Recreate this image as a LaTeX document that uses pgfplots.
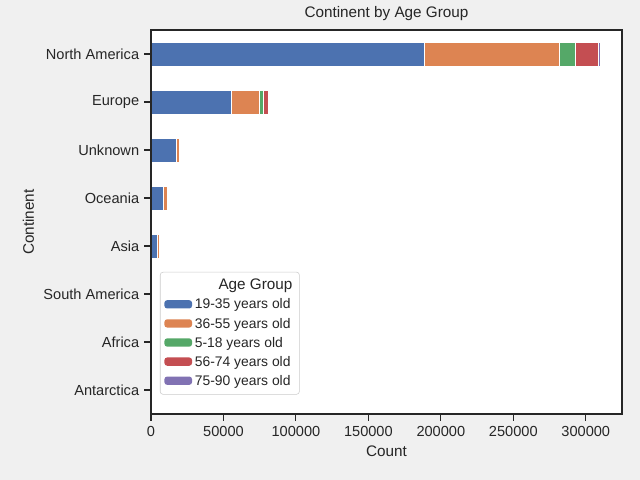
\documentclass[border=0pt]{standalone}
\usepackage{pgfplots}
\pgfplotsset{compat=1.18}
\usepackage{fontspec}
\setmainfont{Liberation Sans}
\definecolor{cb}{HTML}{4C72B0}
\definecolor{co}{HTML}{DD8452}
\definecolor{cg}{HTML}{55A868}
\definecolor{cr}{HTML}{C44E52}
\definecolor{cp}{HTML}{8172B3}
\definecolor{bg}{HTML}{F0F0F0}
\definecolor{ax}{HTML}{262626}
\begin{document}
\begin{tikzpicture}[x=0.72pt,y=0.72pt]
\fill[bg] (0,0) rectangle (640,480);
\useasboundingbox (0,0) rectangle (640,480);
\begin{axis}[at={(108.72pt,47.52pt)}, anchor=south west,
  width=339.12pt, height=276.48pt, scale only axis,
  xbar stacked, bar width=0.5,
  axis on top,
  axis background/.style={fill=white},
  axis line style={ax, line width=0.8pt},
  xmin=0, xmax=325000, ymin=-0.5, ymax=7.5, y dir=reverse,
  ytick={0,...,7},
  yticklabels={North America,Europe,Unknown,Oceania,Asia,South America,Africa,Antarctica},
  xtick={0,50000,100000,150000,200000,250000,300000},
  scaled x ticks=false,
  /pgf/number format/.cd, fixed, 1000 sep={}, assume math mode=true, /pgfplots/.cd,
  tick style={ax, line width=0.8pt}, tick align=outside, major tick length=5pt,
  xtick pos=bottom, ytick pos=left,
  tick label style={font=\fontsize{10.5}{12}\selectfont, text=ax},
  label style={font=\fontsize{11}{12}\selectfont, text=ax},
  xlabel={Count}, ylabel={Continent},
  title={Continent by Age Group}, title style={font=\fontsize{11}{12}\selectfont, text=ax, yshift=-3pt},
  every axis plot/.append style={draw=white, line width=0.4pt},
  legend style={at={(0.019,0.37)}, anchor=north west, draw=black!20, rounded corners=2pt,
    font=\fontsize{10}{12}\selectfont, text=ax, row sep=1pt, inner sep=3pt},
  legend cell align=left,
  legend image code/.code={\fill[#1, draw=none] (0cm,-0.09cm) rectangle (0.7cm,0.12cm);},
]
\addlegendimage{empty legend}
\addlegendentry{\hspace{-0.6cm}\fontsize{11}{13}\selectfont\hspace{1.2cm}Age Group}
\addplot[fill=cb] coordinates {(188400,0) (55700,1) (17700,2) (8800,3) (4400,4) (300,5) (200,6) (50,7)};
\addlegendentry{19-35 years old}
\addplot[fill=co] coordinates {(93300,0) (19300,1) (2100,2) (2200,3) (1200,4) (100,5) (100,6) (0,7)};
\addlegendentry{36-55 years old}
\addplot[fill=cg] coordinates {(10900,0) (2300,1) (200,2) (200,3) (600,4) (0,5) (0,6) (0,7)};
\addlegendentry{5-18 years old}
\addplot[fill=cr] coordinates {(15900,0) (3900,1) (300,2) (300,3) (200,4) (0,5) (0,6) (0,7)};
\addlegendentry{56-74 years old}
\addplot[fill=cp] coordinates {(1300,0) (300,1) (0,2) (0,3) (0,4) (0,5) (0,6) (0,7)};
\addlegendentry{75-90 years old}
\end{axis}
\end{tikzpicture}
\end{document}
